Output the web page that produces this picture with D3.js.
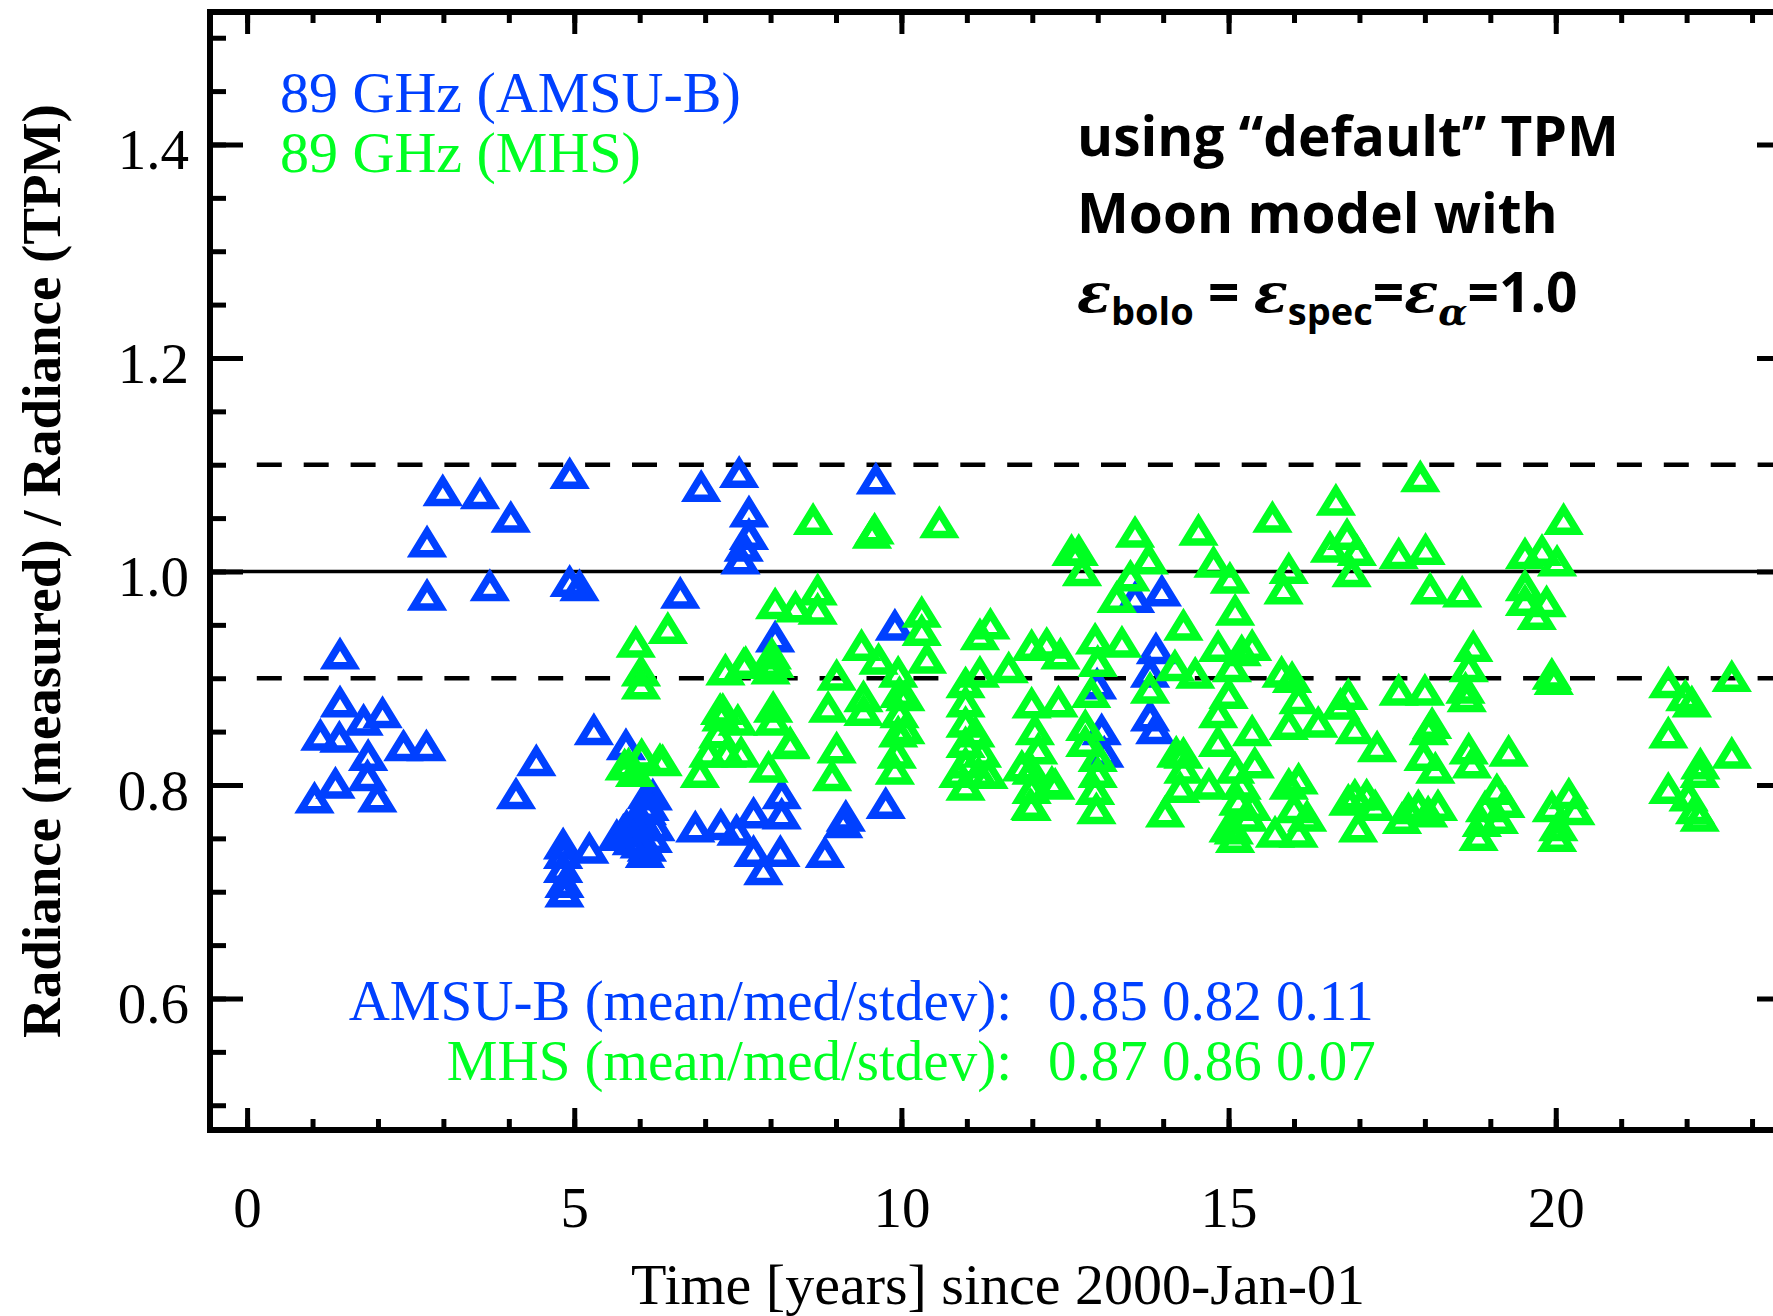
<!DOCTYPE html>
<html>
<head>
<meta charset="UTF-8">
<title>89 GHz Moon radiance ratio</title>
<style>
body {
    margin: 0;
    background: #fff;
}

.serif {
    font-family: 'Liberation Serif', 'Times New Roman', serif;
    font-size: 57px;
}

.note {
    font-family: 'Open Sans', 'Liberation Sans', sans-serif;
    font-weight: bold;
    font-size: 55px;
    fill: #000;
}

.greek {
    font-family: 'DejaVu Serif', serif;
    font-style: italic;
    font-weight: bold;
}

.tri {
    fill: none;
    stroke-width: 7.5px;
    stroke-linejoin: miter;
}
</style>
</head>
<body>
<div class="chart"></div>
<script src="https://cdn.jsdelivr.net/npm/d3@7/dist/d3.min.js"></script>
<script>

// AMSU-B (blue) lunar intrusions: time in years since 2000 and ratio measured / TPM
let amsuYear = [1.03, 1.12, 1.35, 1.41, 1.42, 1.42, 1.78, 1.84, 1.85, 1.99, 2.07, 2.39, 2.74, 2.75, 2.75,
    2.99, 3.56, 3.71, 4.03, 4.11, 4.42, 4.93, 4.93, 5.08, 4.83, 4.83, 4.83, 4.85, 4.85, 5.23, 5.30, 5.79,
    6.11, 5.80, 6.08, 6.24, 6.11, 6.11, 5.88, 6.08, 6.00, 6.20, 5.95, 5.65, 5.75, 6.00, 6.15, 6.20, 5.90,
    6.62, 6.85, 6.94, 7.24, 7.52, 7.67,
    7.67, 7.59, 7.54, 7.48, 7.74, 7.74, 7.89, 8.07, 8.17, 8.17, 8.15, 8.83, 9.11, 9.15, 9.61, 9.76, 9.90,
    12.99, 13.06, 13.10, 13.57, 13.98, 13.89, 13.80, 13.80, 13.88];
let amsuRatio = [0.787, 0.846, 0.801, 0.844, 0.922, 0.877, 0.860, 0.808, 0.827, 0.788, 0.867, 0.836, 0.836, 1.027, 0.977,
    1.075, 1.072, 0.986, 1.050, 0.791, 0.822, 1.091, 0.990, 0.986, 0.744, 0.735, 0.722, 0.708, 0.699, 0.740, 0.851, 0.837,
    0.791, 0.761, 0.761, 0.761, 0.742, 0.776, 0.748, 0.736, 0.770, 0.750, 0.755, 0.752, 0.757, 0.745, 0.780, 0.790, 0.765,
    0.979, 0.760, 1.079, 0.762, 1.092, 1.055,
    1.034, 1.023, 1.011, 0.757, 0.773, 0.737, 0.720, 0.938, 0.791, 0.772, 0.737, 0.736, 0.764, 0.770, 1.086, 0.782, 0.949,
    0.894, 0.851, 0.830, 0.975, 0.981, 0.927, 0.905, 0.864, 0.852];

// MHS (green)
let mhsYear = [5.94, 6.43, 6.02, 6.02, 6.03, 5.83, 6.31, 5.93, 6.35, 5.77, 6.92, 7.05, 7.20, 7.25, 7.31, 7.23,
    7.27, 7.33, 7.62, 7.50, 7.55, 8.65, 9.59, 9.55, 10.58, 12.60, 12.71, 12.76, 13.57, 13.78, 13.50, 13.29,
    14.54, 14.77, 15.02, 15.10, 14.31, 8.07, 8.38, 8.72, 8.72, 10.31, 10.31, 10.39, 11.36, 11.20, 7.59, 8.02,
    8.00, 9.39, 9.65, 9.01, 8.88, 9.42, 9.42, 9.95, 9.97, 9.97, 9.95, 9.93, 9.90, 10.06, 10.06, 10.98, 10.98,
    10.98, 10.98, 10.98, 10.98, 11.13, 10.87, 11.18, 11.20, 11.64, 11.99, 12.22, 12.43, 11.99, 12.40, 12.04,
    12.09, 11.99, 11.99, 11.97, 12.30, 11.84, 12.96, 13.00, 13.37, 12.90, 12.81, 12.81, 13.00, 13.00, 12.96,
    12.98, 13.80, 14.84, 15.20, 14.18, 14.49, 15.05, 15.00, 14.84, 14.84, 14.31, 14.31, 14.26, 14.03, 15.10,
    15.15, 15.10, 15.08, 14.70, 15.20, 15.30, 15.00, 14.20, 8.04, 8.04, 8.30, 7.97, 9.01, 8.94, 11.23, 11.33,
    12.35, 11.99, 8.06, 8.30,
    17.93, 16.64, 15.67, 20.12, 16.81, 16.55, 16.96, 17.60, 18.01, 19.53, 19.79, 20.02, 15.92, 15.84, 16.88,
    18.08, 18.57, 19.53, 19.53, 19.86, 19.71, 15.36, 18.74, 18.67, 18.62, 18.64, 19.94, 19.97, 15.81, 15.97,
    16.07, 15.92, 16.37, 16.83, 16.71, 16.93, 17.27, 17.60, 18.00, 18.11, 18.06, 17.98, 18.16, 18.67, 18.72,
    19.28, 15.36, 15.40, 15.36, 16.07, 15.92, 16.00, 16.20, 15.71, 16.07, 16.93, 17.11, 17.24, 16.98, 16.83,
    17.75, 17.90, 18.05, 18.20, 17.65, 19.10, 18.92, 19.23, 18.87, 19.13, 18.82, 20.20, 19.94, 20.30, 20.04,
    20.02, 21.72, 22.08, 21.98, 22.69, 21.72, 22.21, 22.20, 22.69, 21.72, 22.03, 22.13, 22.20];
let mhsRatio = [0.933, 0.946, 0.906, 0.894, 0.828, 0.819, 0.823, 0.812, 0.822, 0.818, 0.811, 0.830, 0.848, 0.864, 0.907, 0.870,
    0.870, 0.830, 0.914, 0.860, 0.830, 1.048, 1.039, 1.035, 1.045, 1.019, 1.019, 1.000, 1.036, 1.011, 0.995, 0.975,
    1.038, 1.008, 0.993, 0.963, 0.949, 0.969, 0.966, 0.982, 0.964, 0.961, 0.944, 0.918, 0.950, 0.940, 0.913, 0.922,
    0.908, 0.930, 0.917, 0.902, 0.872, 0.882, 0.869, 0.905, 0.886, 0.867, 0.849, 0.829, 0.814, 0.883, 0.852, 0.895, 0.877,
    0.858, 0.839, 0.820, 0.799, 0.849, 0.811, 0.811, 0.905, 0.909, 0.930, 0.932, 0.922, 0.876, 0.877, 0.851,
    0.833, 0.814, 0.796, 0.781, 0.802, 0.817, 0.936, 0.915, 0.933, 0.886, 0.855, 0.840, 0.826, 0.811, 0.795,
    0.777, 0.890, 0.929, 0.925, 0.911, 0.904, 0.910, 0.885, 0.867, 0.840, 0.829, 0.815, 0.797, 0.774, 0.815,
    0.785, 0.750, 0.758, 0.800, 0.800, 0.770, 0.760, 0.830, 0.872, 0.860, 0.838, 0.816, 0.834, 0.808, 0.830, 0.810,
    0.800, 0.780, 0.914, 0.839,
    1.088, 1.066, 1.050, 1.048, 1.034, 1.022, 1.019, 1.016, 1.020, 1.016, 1.019, 1.009, 1.002, 0.983, 0.999,
    0.983, 0.980, 0.986, 0.972, 0.971, 0.959, 0.930, 0.929, 0.910, 0.890, 0.882, 0.903, 0.898, 0.905, 0.900,
    0.880, 0.856, 0.858, 0.884, 0.875, 0.852, 0.835, 0.888, 0.888, 0.857, 0.851, 0.827, 0.815, 0.833, 0.820,
    0.831, 0.850, 0.820, 0.780, 0.805, 0.800, 0.778, 0.770, 0.755, 0.755, 0.790, 0.790, 0.780, 0.760, 0.785,
    0.777, 0.780, 0.774, 0.780, 0.768, 0.795, 0.779, 0.783, 0.765, 0.768, 0.752, 0.791, 0.779, 0.776, 0.761,
    0.751, 0.895, 0.877, 0.883, 0.901, 0.848, 0.819, 0.811, 0.829, 0.796, 0.789, 0.777, 0.770];

let xMajorTicks = [0, 5, 10, 15, 20];
let yMajorTicks = [0.6, 0.8, 1.0, 1.2, 1.4];
let dashedLevels = [0.9, 1.1];
let solidLevel = 1.0;

let legendLines = ['89 GHz (AMSU-B)', '89 GHz (MHS)'];
let statLabels = ['AMSU-B (mean/med/stdev):', 'MHS (mean/med/stdev):'];
let statValues = ['0.85 0.82 0.11', '0.87 0.86 0.07'];

let blue = '#0040ff', green = '#00ff22';
let width = 1773, height = 1316;

let svg = d3.select('.chart').append('svg')
    .attr('width', width)
    .attr('height', height)
    .style('display', 'block');

svg.append('rect').attr('width', width).attr('height', height).attr('fill', '#fff');

let xScale = d3.scaleLinear()
    .domain([-0.567, 23.58])
    .range([210, 1790]);

let yScale = d3.scaleLinear()
    .domain([0.4768, 1.5241])
    .range([1130, 12]);

let [x0, x1] = xScale.range();
let [yBot, yTop] = yScale.range();

// reference lines
svg.append('line')
    .attr('x1', x0).attr('x2', x1)
    .attr('y1', yScale(solidLevel)).attr('y2', yScale(solidLevel))
    .attr('stroke', '#000').attr('stroke-width', 3.5);

svg.selectAll('.dash-line')
    .data(dashedLevels)
    .enter().append('line')
    .attr('class', 'dash-line')
    .attr('x1', xScale(0)).attr('x2', x1)
    .attr('y1', d => yScale(d)).attr('y2', d => yScale(d))
    .attr('stroke', '#000').attr('stroke-width', 4.5)
    .attr('stroke-dasharray', '25 21.9')
    .attr('stroke-dashoffset', 37.2);

// triangles, blue first then green on top
let tri = 'M0,-11L13.5,11L-13.5,11Z';

const drawSeries = (xs, ys, color) => {
    svg.append('g')
        .selectAll('path')
        .data(xs.map((x, i) => [x, ys[i]]))
        .enter().append('path')
        .attr('class', 'tri')
        .attr('d', tri)
        .attr('stroke', color)
        .attr('transform', d => 'translate(' + xScale(d[0]) + ',' + yScale(d[1]) + ')');
};

drawSeries(amsuYear, amsuRatio, blue);
drawSeries(mhsYear, mhsRatio, green);

// axes with inward ticks
const cleanAxis = (g) => {
    g.select('.domain').remove();
    g.attr('font-size', null).attr('font-family', null);
    g.selectAll('.tick line').attr('stroke', '#000').attr('stroke-width', 5);
    g.selectAll('.tick text').attr('class', 'serif').attr('fill', '#000');
};

let xMinor = d3.range(0, 24);
let yMinor = d3.range(10, 31).map(i => +(i * 0.05).toFixed(2));

svg.append('g').attr('transform', 'translate(0,' + yBot + ')')
    .call(d3.axisBottom(xScale).tickValues(xMinor).tickSize(-11).tickFormat(''))
    .call(cleanAxis);
svg.append('g').attr('transform', 'translate(0,' + yBot + ')')
    .call(d3.axisBottom(xScale).tickValues(xMajorTicks).tickSize(-22).tickPadding(57).tickFormat(d3.format('d')))
    .call(cleanAxis);

svg.append('g').attr('transform', 'translate(0,' + yTop + ')')
    .call(d3.axisTop(xScale).tickValues(xMinor).tickSize(-11).tickFormat(''))
    .call(cleanAxis);
svg.append('g').attr('transform', 'translate(0,' + yTop + ')')
    .call(d3.axisTop(xScale).tickValues(xMajorTicks).tickSize(-22).tickFormat(''))
    .call(cleanAxis);

svg.append('g').attr('transform', 'translate(' + x0 + ',0)')
    .call(d3.axisLeft(yScale).tickValues(yMinor).tickSize(-16).tickFormat(''))
    .call(cleanAxis);
svg.append('g').attr('transform', 'translate(' + x0 + ',0)')
    .call(d3.axisLeft(yScale).tickValues(yMajorTicks).tickSize(-33).tickPadding(21).tickFormat(d3.format('.1f')))
    .call(cleanAxis)
    .selectAll('.tick text').attr('dy', '0.43em');

svg.append('g').attr('transform', 'translate(' + x1 + ',0)')
    .call(d3.axisRight(yScale).tickValues(yMinor).tickSize(-16).tickFormat(''))
    .call(cleanAxis);
svg.append('g').attr('transform', 'translate(' + x1 + ',0)')
    .call(d3.axisRight(yScale).tickValues(yMajorTicks).tickSize(-33).tickFormat(''))
    .call(cleanAxis);

// frame
svg.append('rect')
    .attr('x', x0).attr('y', yTop)
    .attr('width', x1 - x0).attr('height', yBot - yTop)
    .attr('fill', 'none').attr('stroke', '#000').attr('stroke-width', 6);

// axis titles
svg.append('text')
    .attr('class', 'serif')
    .attr('x', 998).attr('y', 1304)
    .attr('text-anchor', 'middle')
    .style('font-size', '58px')
    .text('Time [years] since 2000-Jan-01');

svg.append('text')
    .attr('class', 'serif')
    .attr('transform', 'translate(60,571) rotate(-90)')
    .attr('text-anchor', 'middle')
    .style('font-size', '55px')
    .style('font-weight', 'bold')
    .text('Radiance (measured) / Radiance (TPM)');

// legend
svg.selectAll('.legend')
    .data(legendLines)
    .enter().append('text')
    .attr('class', 'serif legend')
    .attr('x', 280)
    .attr('y', (d, i) => 112 + i * 60)
    .style('font-size', '58px')
    .style('fill', (d, i) => i === 0 ? blue : green)
    .text(d => d);

// statistics
statLabels.forEach((s, i) => {
    let c = i === 0 ? blue : green;
    svg.append('text').attr('class', 'serif')
        .attr('x', 1012).attr('y', 1020 + i * 60)
        .attr('text-anchor', 'end').style('fill', c).text(s);
    svg.append('text').attr('class', 'serif')
        .attr('x', 1048).attr('y', 1020 + i * 60)
        .style('fill', c).text(statValues[i]);
});

// model note
let note = svg.append('text').attr('class', 'note');
note.append('tspan').attr('x', 1077).attr('y', 156).text('using \u201cdefault\u201d TPM');
note.append('tspan').attr('x', 1077).attr('y', 233).text('Moon model with');

let eq = svg.append('text').attr('class', 'note').attr('x', 1077).attr('y', 312);
eq.append('tspan').attr('class', 'greek').style('font-size', '56px').text('\u03b5');
eq.append('tspan').attr('dy', 13).style('font-size', '38px').text('bolo');
eq.append('tspan').attr('dy', -13).text(' = ');
eq.append('tspan').attr('class', 'greek').style('font-size', '56px').text('\u03b5');
eq.append('tspan').attr('dy', 13).style('font-size', '38px').text('spec');
eq.append('tspan').attr('dy', -13).text('=');
eq.append('tspan').attr('class', 'greek').style('font-size', '56px').text('\u03b5');
eq.append('tspan').attr('dy', 13).attr('class', 'greek').style('font-size', '38px').text('\u03b1');
eq.append('tspan').attr('dy', -13).text('=1.0');

</script>
</body>
</html>
